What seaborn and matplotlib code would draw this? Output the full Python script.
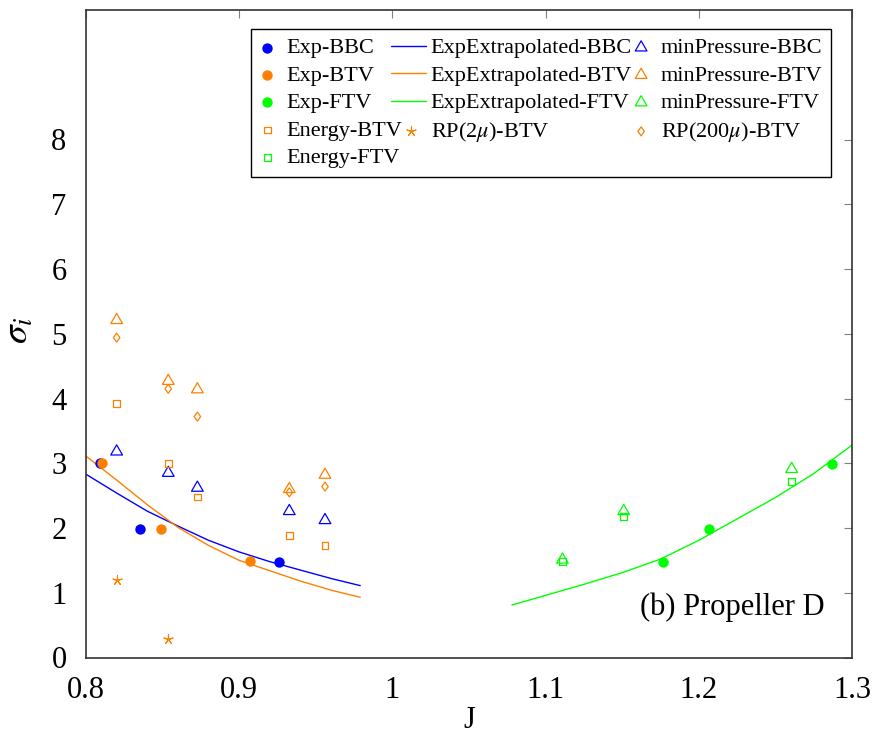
import matplotlib
matplotlib.use("Agg")
import matplotlib.pyplot as plt
from matplotlib.path import Path
from matplotlib.lines import Line2D
from matplotlib.collections import PathCollection
from matplotlib.legend_handler import HandlerLine2D, HandlerPathCollection
import seaborn as sns

# --- data ---
blue = "#0000FF"
orange = "#FF8000"
green = "#00FF00"

exp_bbc_j = [0.809, 0.835, 0.926]
exp_bbc_s = [3.0, 1.98, 1.48]
exp_btv_j = [0.8105, 0.849, 0.907]
exp_btv_s = [3.0, 1.99, 1.49]
exp_ftv_j = [1.1766, 1.2068, 1.2867]
exp_ftv_s = [1.48, 1.99, 2.99]

extrap_bbc_j = [0.80, 0.82, 0.84, 0.86, 0.88, 0.90, 0.92, 0.94, 0.96, 0.979]
extrap_bbc_s = [2.83, 2.54, 2.26, 2.03, 1.81, 1.63, 1.48, 1.35, 1.22, 1.11]
extrap_btv_j = [0.80, 0.82, 0.84, 0.86, 0.88, 0.90, 0.92, 0.94, 0.96, 0.979]
extrap_btv_s = [3.11, 2.74, 2.36, 2.01, 1.73, 1.50, 1.34, 1.18, 1.04, 0.93]
extrap_ftv_j = [1.078, 1.10, 1.125, 1.15, 1.175, 1.20, 1.225, 1.25, 1.275, 1.30]
extrap_ftv_s = [0.81, 0.96, 1.13, 1.31, 1.52, 1.81, 2.14, 2.47, 2.84, 3.28]

btv_j = [0.82, 0.8537, 0.8727, 0.9327, 0.956]
minp_bbc_s = [3.18, 2.85, 2.62, 2.26, 2.12]
minp_btv_s = [5.21, 4.27, 4.14, 2.60, 2.82]
energy_btv_s = [3.92, 2.99, 2.48, 1.89, 1.73]
rp200_btv_s = [4.94, 4.15, 3.72, 2.55, 2.64]
rp2_btv_j = [0.82, 0.8537]
rp2_btv_s = [1.20, 0.29]

ftv_j = [1.111, 1.151, 1.2606]
minp_ftv_s = [1.51, 2.26, 2.91]
energy_ftv_s = [1.48, 2.18, 2.72]

x_ticks = [0.8, 0.9, 1.0, 1.1, 1.2, 1.3]
x_tick_labels = ["0.8", "0.9", "1", "1.1", "1.2", "1.3"]
y_ticks = [0, 1, 2, 3, 4, 5, 6, 7, 8]

# --- style ---
sns.set_theme(style="white")
plt.rcParams["font.family"] = ["Liberation Serif", "DejaVu Serif"]
plt.rcParams["mathtext.fontset"] = "stix"
plt.rcParams["text.color"] = "black"
plt.rcParams["axes.labelcolor"] = "black"

fig = plt.figure(figsize=(8.77, 7.42), dpi=100)
ax = fig.add_axes([86 / 877, (742 - 657.5) / 742, 766 / 877, 647.5 / 742])

tri = Path([(0, 1), (-0.866, -0.5), (0.866, -0.5), (0, 1)], closed=True)
diamond = Path([(0, 1), (0.72, 0), (0, -1), (-0.72, 0), (0, 1)], closed=True)
star = (5, 2, 0)


def filled(x, y, c, label):
    sns.scatterplot(x=x, y=y, ax=ax, color=c, marker="o", s=56,
                    edgecolor=c, linewidth=0, label=label, zorder=3)


def hollow(x, y, c, marker, s, label):
    sns.scatterplot(x=x, y=y, ax=ax, color=c, marker=marker, s=s,
                    facecolor="none", edgecolor=c, linewidth=0.9,
                    label=label, zorder=3)


def curve(x, y, c, label):
    sns.lineplot(x=x, y=y, ax=ax, color=c, linewidth=1.0, sort=False,
                 label=label, zorder=2)


filled(exp_bbc_j, exp_bbc_s, blue, "Exp-BBC")
curve(extrap_bbc_j, extrap_bbc_s, blue, "ExpExtrapolated-BBC")
hollow(btv_j, minp_bbc_s, blue, tri, 95, "minPressure-BBC")
filled(exp_btv_j, exp_btv_s, orange, "Exp-BTV")
curve(extrap_btv_j, extrap_btv_s, orange, "ExpExtrapolated-BTV")
hollow(btv_j, minp_btv_s, orange, tri, 95, "minPressure-BTV")
filled(exp_ftv_j, exp_ftv_s, green, "Exp-FTV")
curve(extrap_ftv_j, extrap_ftv_s, green, "ExpExtrapolated-FTV")
hollow(ftv_j, minp_ftv_s, green, tri, 95, "minPressure-FTV")
hollow(btv_j, energy_btv_s, orange, "s", 24, "Energy-BTV")
# asterisk is line art: colour must come from color, not facecolor
sns.scatterplot(x=rp2_btv_j, y=rp2_btv_s, ax=ax, color=orange, marker=star,
                s=45, linewidth=0.8, label=r"RP(2$\mu$)-BTV", zorder=3)
hollow(btv_j, rp200_btv_s, orange, diamond, 42, r"RP(200$\mu$)-BTV")
hollow(ftv_j, energy_ftv_s, green, "s", 24, "Energy-FTV")

# legend, column-major order to get pgfplots row layout
handles, labels = ax.get_legend_handles_labels()
lookup = dict(zip(labels, handles))
order = ["Exp-BBC", "Exp-BTV", "Exp-FTV", "Energy-BTV", "Energy-FTV",
         "ExpExtrapolated-BBC", "ExpExtrapolated-BTV", "ExpExtrapolated-FTV",
         r"RP(2$\mu$)-BTV",
         "minPressure-BBC", "minPressure-BTV", "minPressure-FTV",
         r"RP(200$\mu$)-BTV"]
leg = ax.legend([lookup[k] for k in order], order, ncol=3, loc="upper left",
                bbox_to_anchor=(0.2154, 0.9707), fontsize=16,
                handlelength=1.0, handletextpad=0.2, columnspacing=0.08,
                borderpad=0.4, labelspacing=0.31, borderaxespad=0,
                fancybox=False, framealpha=1, edgecolor="black",
                handler_map={Line2D: HandlerLine2D(xpad=-0.6),
                             PathCollection: HandlerPathCollection(xpad=-0.35)})
leg.get_frame().set_linewidth(1.0)

ax.set_xlim(0.8, 1.3)
ax.set_ylim(0, 10)
ax.set_xticks(x_ticks)
ax.set_xticklabels(x_tick_labels)
ax.set_yticks(y_ticks)
ax.tick_params(axis="both", direction="in", length=6, width=0.8,
               color="#808080", labelsize=22, top=True, right=True,
               labelcolor="black")
ax.tick_params(axis="x", pad=13)
ax.tick_params(axis="y", pad=14)
for sp in ax.spines.values():
    sp.set_color("#333333")
    sp.set_linewidth(1.2)

ax.set_xlabel("J", fontsize=22)
ax.set_ylabel(r"$\sigma_i$", fontsize=27)
ax.xaxis.set_label_coords(0.5, -0.075)
ax.yaxis.set_label_coords(-0.065, 0.505)

ax.text(1.2824, 0.66, "(b) Propeller D", ha="right", va="baseline",
        fontsize=22)

fig.savefig("out.png", dpi=100)
